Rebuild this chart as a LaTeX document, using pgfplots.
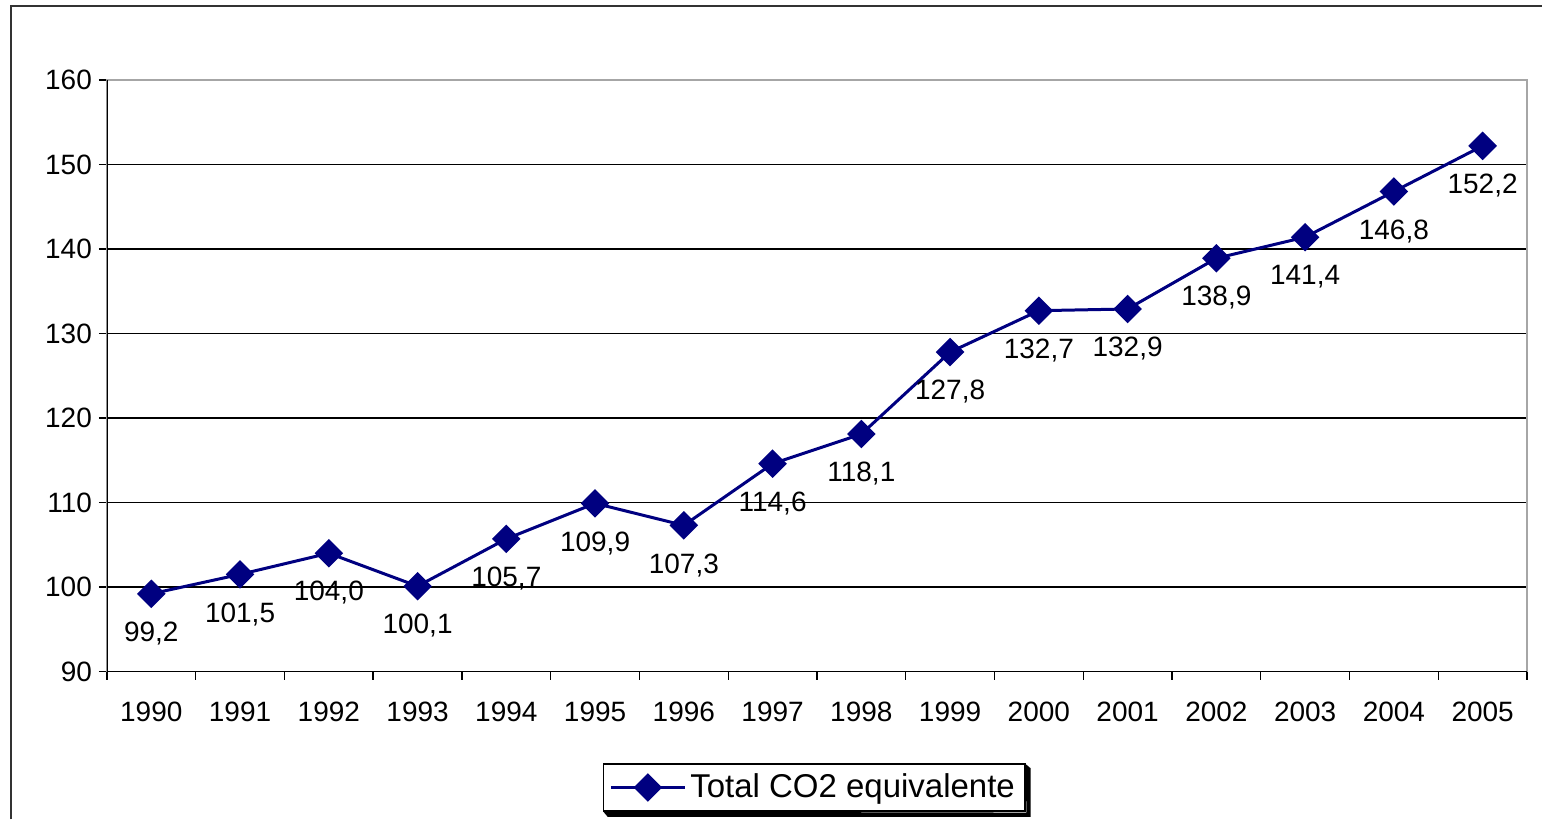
\documentclass[border=0pt]{standalone}
\usepackage{fontspec}
\setmainfont{Liberation Sans}
\usepackage{pgfplots}
\pgfplotsset{compat=1.18}
\definecolor{navyline}{RGB}{0,0,128}

\begin{document}
\begin{tikzpicture}
% page area and outer chart frame
\path (0pt,0pt) rectangle (771.5pt,410pt);
\draw[line width=1pt, black!80] (5.75pt,0pt) -- (5.75pt,407pt) -- (771.5pt,407pt);
\begin{axis}[
    at={(53.5pt,74pt)}, anchor=south west,
    scale only axis, width=710.5pt, height=296pt,
    xmin=-0.5, xmax=15.5, ymin=90, ymax=160,
    ytick={90,100,...,160},
    xtick={-0.5,0.5,...,15.5},
    xticklabels={},
    extra x ticks={0,1,...,15},
    extra x tick labels={1990,1991,1992,1993,1994,1995,1996,1997,1998,1999,2000,2001,2002,2003,2004,2005},
    extra x tick style={major tick length=0pt},
    tick align=outside, tick pos=left,
    major tick length=4pt,
    tick style={black, line width=0.7pt},
    xticklabel style={yshift=-11.5pt},
    ymajorgrids, xmajorgrids=false,
    major grid style={black, line width=0.7pt},
    axis line style={draw=gray!70, line width=0.8pt},
    tick label style={font=\fontsize{14}{16}\selectfont},
    /pgf/number format/assume math mode=true,
    legend style={at={(0.498,-0.196)}, anchor=center, draw=black,
        line width=0.8pt, fill=white, name=leg,
        font=\fontsize{16.5}{18}\selectfont, inner xsep=3pt, inner ysep=3pt},
    legend image code/.code={\draw[mark repeat=2,mark phase=2] plot coordinates {(0cm,0cm) (0.65cm,0cm) (1.3cm,0cm)};},
]
\addplot[navyline, line width=1.5pt, mark=square*, mark size=4.3pt,
    mark options={rotate=45, solid},
    nodes near coords={\pgfmathprintnumber[use comma,fixed,fixed zerofill,precision=1,assume math mode=true]{\pgfplotspointmeta}},
    every node near coord/.append style={black, anchor=north, yshift=-10pt, font=\fontsize{14}{16}\selectfont},
] coordinates {
    (0,99.2) (1,101.5) (2,104.0) (3,100.1) (4,105.7) (5,109.9) (6,107.3) (7,114.6)
    (8,118.1) (9,127.8) (10,132.7) (11,132.9) (12,138.9) (13,141.4) (14,146.8) (15,152.2)
};
\addlegendentry{Total CO2 equivalente}
\draw[black, line width=0.9pt] (rel axis cs:0,1) -- (rel axis cs:0,0) -- (rel axis cs:1,0);
\end{axis}
% legend shadow (right and bottom edges)
\fill[black] ([xshift=0.4pt]leg.south west) -- ([xshift=2.5pt,yshift=-2.5pt]leg.south west)
    -- ([xshift=2.5pt,yshift=-2.5pt]leg.south east) -- ([xshift=2.5pt,yshift=-2.5pt]leg.north east)
    -- ([yshift=-0.4pt]leg.north east) -- ([xshift=0.4pt,yshift=-0.4pt]leg.south east) -- cycle;
\end{tikzpicture}
\end{document}
